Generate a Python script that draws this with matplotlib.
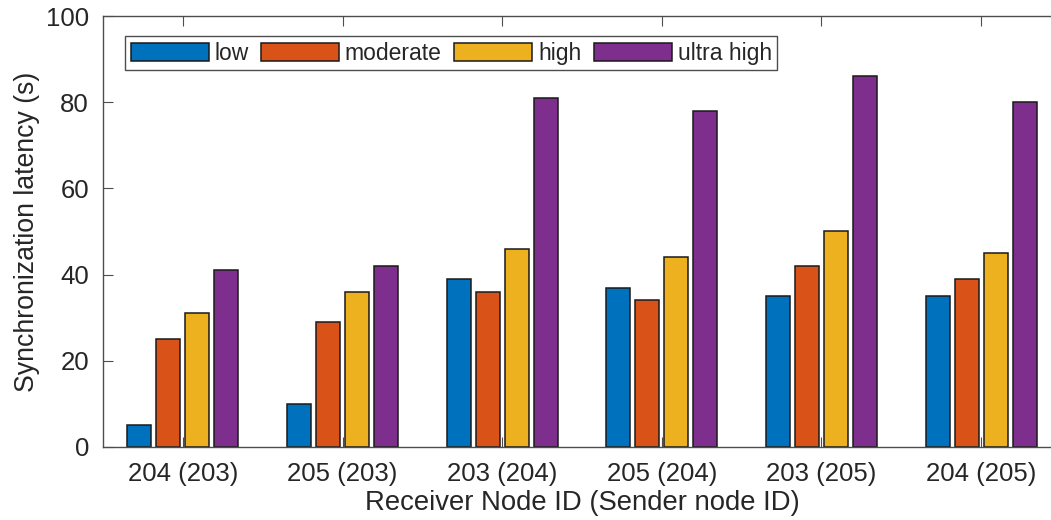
import matplotlib
matplotlib.use("Agg")
import matplotlib.pyplot as plt
import numpy as np

plt.rcParams['font.family'] = ['Liberation Sans', 'DejaVu Sans']

categories = ["204 (203)", "205 (203)", "203 (204)", "205 (204)", "203 (205)", "204 (205)"]
series_names = ["low", "moderate", "high", "ultra high"]
low = [5, 10, 39, 37, 35, 35]
moderate = [25, 29, 36, 34, 42, 39]
high = [31, 36, 46, 44, 50, 45]
ultra_high = [41, 42, 81, 78, 86, 80]
colors = ["#0072BD", "#D95319", "#EDB120", "#7E2F8E"]

W, H = 1051, 520
fig = plt.figure(figsize=(W / 100, H / 100), dpi=100)
left, right, top, bottom = 103, 1061, 16, 447
ax = fig.add_axes([left / W, 1 - bottom / H, (right - left) / W, (bottom - top) / H])

x = np.arange(1, len(categories) + 1)
offsets = [-0.272, -0.091, 0.091, 0.272]
width = 0.15
txtc = "#262626"
for vals, name, c, off in zip([low, moderate, high, ultra_high], series_names, colors, offsets):
    ax.bar(x + off, vals, width=width, color=c, edgecolor="#1a1a1a", linewidth=1.1, label=name, zorder=2)

ax.set_xlim(0.5, 6.5)
ax.set_ylim(0, 100)
ax.set_xticks(x)
ax.set_xticklabels(categories)
ax.set_yticks(np.arange(0, 101, 20))
ax.tick_params(direction="in", length=7, width=0.8, colors="#4d4d4d", labelcolor=txtc,
               labelsize=18.5, top=True, right=True)
ax.tick_params(axis="x", pad=11)
ax.tick_params(axis="y", pad=10)
for s in ax.spines.values():
    s.set_color("#4d4d4d")
    s.set_linewidth(1.0)

ax.set_xlabel("Receiver Node ID (Sender node ID)", fontsize=19.8, color=txtc, labelpad=3)
ax.set_ylabel("Synchronization latency (s)", fontsize=19.2, color=txtc, labelpad=4)

leg = ax.legend(loc="upper left", bbox_to_anchor=(125 / W, 1 - 36 / H), bbox_transform=fig.transFigure,
                ncol=4, fontsize=16.5, frameon=True, fancybox=False, framealpha=1,
                handlelength=3.4, handleheight=0.85, handletextpad=0.25, columnspacing=0.55,
                borderpad=0.25, borderaxespad=0)
leg.get_frame().set_edgecolor("#4d4d4d")
leg.get_frame().set_linewidth(1.0)
for t in leg.get_texts():
    t.set_color(txtc)

fig.savefig("out.png", dpi=100)
